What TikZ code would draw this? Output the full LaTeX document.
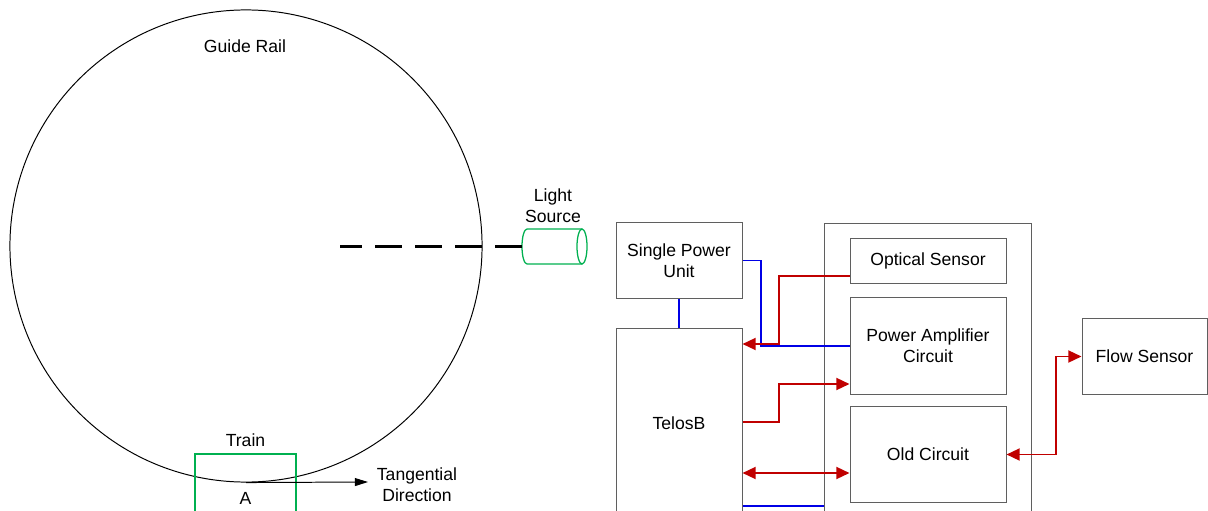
\documentclass[tikz,border=0pt]{standalone}
\usepackage{fontspec}
\setmainfont{Liberation Sans}
\usetikzlibrary{arrows.meta}
\definecolor{railgreen}{RGB}{0,176,80}
\definecolor{wirered}{RGB}{192,0,0}
\definecolor{wireblue}{RGB}{0,0,230}
\definecolor{boxgray}{RGB}{95,95,95}
\begin{document}
\begin{tikzpicture}[x=0.025cm,y=-0.025cm,font=\fontsize{12.5}{15}\selectfont,
        box/.style={draw=boxgray,line width=0.7pt,align=center,inner sep=0pt},
        redwire/.style={draw=wirered,line width=1.4pt},
        bluewire/.style={draw=wireblue,line width=1.4pt},
        >={Triangle[length=0.33cm,width=0.3cm]}]
        \clip (0,0) rectangle (1208,511);
        % rail and train
            \node[circle,draw,line width=0.7pt,minimum size=11.8cm,inner sep=0pt] (rail) at (246,246) {};
            \node[box,draw=railgreen,line width=0.9pt,minimum width=2.525cm,minimum height=2.2cm] (train) at (245.5,498) {A};
            \coordinate (tang) at (368,482);
            \draw[line width=0.7pt,-{Triangle[length=0.33cm,width=0.2cm]}] (rail.south) -- (tang);
        % light source
            \coordinate (light) at (522,246.5);
            \coordinate (beam) at (340,246.5);
            \draw[railgreen,line width=0.9pt] (582,229) -- (527,229)
                .. controls (524.2,229) and (522,236.8) .. (522,246.5)
                .. controls (522,256.2) and (524.2,264) .. (527,264) -- (582,264);
            \draw[railgreen,line width=0.9pt] (582,246.5) ellipse [x radius=0.125cm,y radius=0.4375cm];
            \draw[line width=1.8pt,dash pattern=on 0.675cm off 0.325cm] (light) -- (beam);
        % mote
            \node[box,minimum width=5.15cm,minimum height=7.9cm] (mote) at (928,382) {};
            \foreach \n/\x/\y/\w/\h/\t in {spu/679/260.5/3.15/1.875/{Single Power\\Unit},
                    telos/679/423/3.15/4.7/TelosB,
                    optical/928/260.5/3.9/1.125/Optical Sensor,
                    amp/928/346/3.9/2.4/{Power Amplifier\\Circuit},
                    old/928/454.5/3.9/2.375/Old Circuit,
                    flow/1144.5/356.5/3.125/1.875/Flow Sensor}{
                \node[box,minimum width=\w cm,minimum height=\h cm] (\n) at (\x,\y) {\t};
            }
        % wires
            \draw[bluewire] (spu.south) -- (telos.north);
            \draw[bluewire] (spu.east) -| (761,346) -- (amp.west);
            \draw[bluewire] (telos.east |- 0,506) -- (mote.west |- 0,506);
            \draw[redwire,->] (optical.west |- 0,276) -| (779,344) -- (telos.east |- 0,344);
            \draw[redwire,->] (telos.east |- 0,422) -| (779,384) -- (amp.west |- 0,384);
            \draw[redwire,<->] (telos.east |- 0,473) -- (old.west |- 0,473);
            \draw[redwire,<->] (old.east) -| (1056,356.5) -- (flow.west);
        % labels
            \node at (245,46) {Guide Rail};
            \node at (245.5,440) {Train};
            \node[align=center] at (553,206) {Light\\Source};
            \node[align=center] at (417,485) {Tangential\\Direction};
        \end{tikzpicture}
\end{document}
